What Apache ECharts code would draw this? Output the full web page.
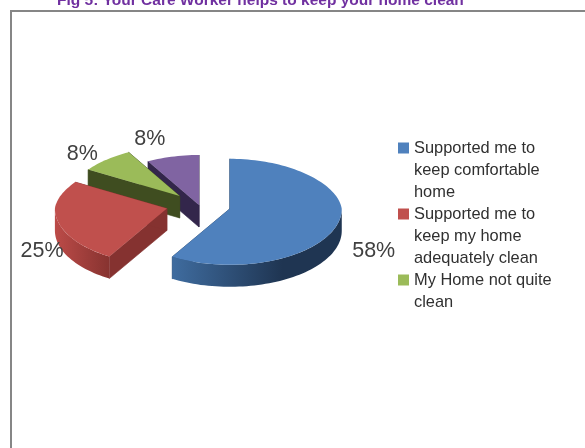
<!DOCTYPE html>
<html>
<head>
<meta charset="utf-8">
<style>html,body{margin:0;padding:0;background:#fff}#chart{width:585px;height:448px}</style>
<script src="https://cdn.jsdelivr.net/npm/echarts@6/dist/echarts.min.js"></script>
</head>
<body>
<div id="chart"></div>
<script>
// Care worker survey responses
const chartTitle = 'Fig 5: Your Care Worker helps to keep your home clean';
const sliceNames = [
  'Supported me to\nkeep comfortable\nhome',
  'Supported me to\nkeep my home\nadequately clean',
  'My Home not quite\nclean',
  'Other'
];
const sliceValues = [58, 25, 8, 8];

// Tilted pie geometry and colours
const baseCentre = [199, 205];
const radiusX = 112, backNarrowing = 8, radiusBack = 50, radiusFront = 56, wallDepth = 22;
const explode = [0.285, 0.295, 0.25, 0];
const topColours = ['#4F81BD', '#C0504D', '#9BBB59', '#8064A2'];
const faceColours = ['#2A4A70', '#853230', '#3F4D20', '#33264B'];
const wallStops = [
  ['#3F6C9F', '#1F3552'],
  ['#BC4B48', '#873330'],
  ['#5C7534', '#3F4D20'],
  ['#54426E', '#33264B']
];
const labelNudge = [[36, 27], [-16, 29], [-24, -6], [-23, -18]];

const total = sliceValues.reduce((a, b) => a + b, 0);
const rad = d => d * Math.PI / 180;

// Projects an angle (clockwise from the top) on the tilted ellipse.
function rim(centre, deg) {
  const c = Math.cos(rad(deg));
  const rx = radiusX - backNarrowing * Math.max(0, c);
  return [centre[0] + rx * Math.sin(rad(deg)), centre[1] - c * (c > 0 ? radiusBack : radiusFront)];
}
const drop = p => [p[0], p[1] + wallDepth];

function arcPoints(centre, from, to) {
  const pts = [];
  const n = Math.max(2, Math.ceil(Math.abs(to - from) / 2));
  for (let i = 0; i <= n; i++) pts.push(rim(centre, from + (to - from) * i / n));
  return pts;
}

function renderSlice(index) {
  return function (params, api) {
    const value = api.value(0);
    const before = sliceValues.slice(0, index).reduce((a, b) => a + b, 0);
    const start = before / total * 360;
    const end = start + value / total * 360;
    const mid = (start + end) / 2;
    const centre = [
      baseCentre[0] + explode[index] * radiusX * Math.sin(rad(mid)),
      baseCentre[1] - explode[index] * radiusBack * Math.cos(rad(mid))
    ];
    const children = [];
    const face = (a) => {
      const p = rim(centre, a);
      children.push({
        type: 'polygon',
        shape: { points: [centre, p, drop(p), drop(centre)] },
        style: { fill: faceColours[index], stroke: faceColours[index], lineWidth: 0.6 }
      });
    };
    face(start);
    face(end);

    // Outer wall: only the part of the rim that faces the viewer
    const wallFrom = Math.max(start, 90), wallTo = Math.min(end, 270);
    if (wallTo > wallFrom) {
      const arc = arcPoints(centre, wallFrom, wallTo);
      const stops = wallStops[index];
      children.push({
        type: 'polygon',
        shape: { points: arc.concat(arc.map(drop).reverse()) },
        style: {
          fill: {
            type: 'linear', x: 0, y: 0, x2: 1, y2: 0,
            colorStops: [
              { offset: 0, color: stops[0] },
              { offset: index === 0 ? 0.65 : 1, color: stops[1] },
              { offset: 1, color: stops[1] }
            ]
          }
        }
      });
    }

    children.push({
      type: 'polygon',
      shape: { points: [centre].concat(arcPoints(centre, start, end)) },
      style: { fill: topColours[index] }
    });

    const anchor = rim(centre, mid);
    children.push({
      type: 'text',
      style: {
        x: anchor[0] + labelNudge[index][0],
        y: anchor[1] + labelNudge[index][1],
        text: Math.round(value) + '%',
        fill: '#404040',
        font: '21.5px "Liberation Sans", Arial, sans-serif',
        align: 'center',
        verticalAlign: 'middle'
      }
    });
    return { type: 'group', children };
  };
}

// Later slices sit behind earlier ones, so the series are stacked by z.
const series = sliceNames.map((name, i) => ({
  type: 'custom',
  name,
  coordinateSystem: 'none',
  z: 10 - i,
  silent: true,
  itemStyle: { color: topColours[i] },
  data: [[sliceValues[i]]],
  renderItem: renderSlice(i)
}));

const chart = echarts.init(document.getElementById('chart'), null, { renderer: 'canvas' });
chart.setOption({
  animation: false,
  backgroundColor: '#ffffff',
  title: {
    text: chartTitle,
    left: 57,
    top: -7,
    padding: 0,
    textStyle: { color: '#7030A0', fontSize: 15.5, fontWeight: 'bold', fontFamily: '"Liberation Sans", Arial, sans-serif' }
  },
  graphic: [{
    type: 'rect',
    silent: true,
    z: 0,
    shape: { x: 11, y: 11, width: 620, height: 480 },
    style: { fill: '#ffffff', stroke: '#868686', lineWidth: 2 }
  }],
  legend: {
    orient: 'vertical',
    left: 398,
    top: 93,
    padding: 0,
    itemGap: -44,
    itemWidth: 11,
    itemHeight: 11,
    icon: 'rect',
    selectedMode: false,
    data: sliceNames.slice(0, 3),
    // Two blank lines above keep the swatch level with the first line of text.
    formatter: name => {
      const lines = name.split('\n').length;
      return '\n\n' + name + '\n'.repeat(3 - lines);
    },
    textStyle: {
      color: '#303030',
      fontSize: 16.4,
      lineHeight: 22,
      fontFamily: '"Liberation Sans", Arial, sans-serif'
    }
  },
  series
});
</script>
</body>
</html>
